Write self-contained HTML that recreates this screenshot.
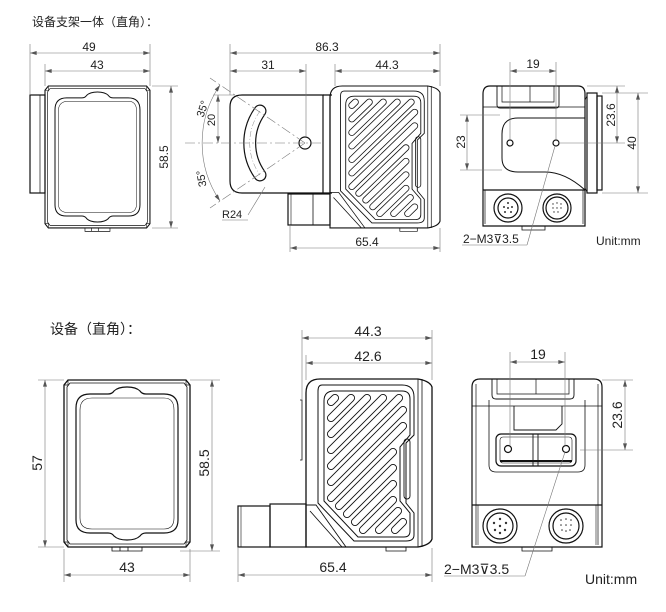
<!DOCTYPE html>
<html><head><meta charset="utf-8"><style>
html,body{margin:0;padding:0;background:#fff;}
svg{display:block}
text{font-family:"Liberation Sans","Noto Sans CJK SC",sans-serif;fill:#222}
</style></head><body>
<svg width="666" height="612" viewBox="0 0 666 612" xmlns="http://www.w3.org/2000/svg">
<defs>
<marker id="a" viewBox="0 0 10 6" refX="10" refY="3" markerWidth="7" markerHeight="4" orient="auto-start-reverse" markerUnits="userSpaceOnUse"><path d="M0,0L10,3L0,6z" fill="#555"/></marker>
<path id="slots" d="M29,19L25,23M45,19L25,39M61,19L25,55M77,19L25,71M93,19L25,87M97,31L25,103M97,47L25,119M87,73L33,127M87,89L41,135M87,105L49,143M87,121L57,151M92,132L73,151M97,143L89,151"/>
<g id="front" fill="none" stroke="#111">
 <path d="M4,0 L122,0 L126,5 L126,162 L122,167 L4,167 L0,162 L0,5 Z" stroke-width="1.3"/>
 <path d="M6,3 L120,3 L123,7 L123,160 L120,164 L6,164 L3,160 L3,7 Z" stroke-width="0.8"/>
 <path d="M0,5 L4,5 L4,0 M126,5 L122,5 L122,0 M0,162 L4,162 L4,167 M126,162 L122,162 L122,167" stroke-width="0.7"/>
 <path d="M26,14 L44,14 Q48,14 50,11 Q54,7 63,7 Q72,7 76,11 Q78,14 82,14 L100,14 Q114,14 114,28 L114,140 Q114,153 100,153 L82,153 Q78,153 76,156 Q72,160 63,160 Q54,160 50,156 Q48,153 44,153 L26,153 Q12,153 12,140 L12,28 Q12,14 26,14 Z" stroke-width="1.2"/>
 <path d="M28,18 L100,18 Q110,18 110,30 L110,138 Q110,149 100,149 L28,149 Q16,149 16,138 L16,30 Q16,18 28,18 Z" stroke-width="0.6"/>
 <path d="M48,167 L48,171 L78,171 L78,167 M56,167 L56,171 M64,167 L64,171" stroke-width="0.8"/>
</g>
<g id="side" fill="none" stroke="#111">
 <path d="M14,0 L112,0 Q124,2 126,8 L126,160 Q124,166 112,168 L0,168 L0,14 Q0,0 14,0 Z" stroke-width="1.3"/>
 <path d="M112,0 L112,168 M116,0 L116,168" stroke-width="0.8"/>
 <path d="M16,6 L96,6 Q108,6 108,18 L108,56 L100,64 L100,124 L108,134 L108,156 Q108,162 100,162 L48,162 L12,124 L12,12 Q12,6 16,6Z" stroke-width="1"/>
 <path d="M18,22 Q18,12 28,12 L96,12 Q104,12 104,20 L104,56 L94,68 L94,122 L104,134 L104,152 Q104,158 98,158 L52,158 L18,122 Z" stroke-width="1"/>
 <use href="#slots" stroke="#111" stroke-width="8" stroke-linecap="round"/>
 <use href="#slots" stroke="#fff" stroke-width="6.2" stroke-linecap="round"/>
 <rect x="98" y="60" width="6" height="60" rx="3" stroke-width="0.9"/>
 <path d="M0,126 L10,126 L40,168 M4,132 L36,168" stroke-width="0.9"/>
 <path d="M80,168 L80,172 L100,172 L100,168" stroke-width="0.8"/>
</g>
</defs>

<!-- ============ TOP SECTION ============ -->
<text x="32" y="26" font-size="12">设备支架一体（直角）：</text>

<g fill="none" stroke="#111" stroke-width="1.2"><rect x="30" y="95" width="15" height="98"/><line x1="40" y1="95" x2="40" y2="193" stroke-width="0.7"/></g>
<use href="#front" transform="translate(45,86) scale(0.833,0.85)"/>
<g stroke="#777" stroke-width="0.6" fill="none">
 <line x1="30" y1="44" x2="30" y2="95"/><line x1="150" y1="44" x2="150" y2="86"/><line x1="45" y1="64" x2="45" y2="86"/>
 <line x1="30" y1="53" x2="150" y2="53" marker-start="url(#a)" marker-end="url(#a)"/>
 <line x1="45" y1="71" x2="150" y2="71" marker-start="url(#a)" marker-end="url(#a)"/>
 <line x1="152" y1="86" x2="178" y2="86"/><line x1="152" y1="228" x2="178" y2="228"/>
 <line x1="171" y1="86" x2="171" y2="228" marker-start="url(#a)" marker-end="url(#a)"/>
</g>
<text x="89" y="51" font-size="12" text-anchor="middle">49</text>
<text x="97" y="69" font-size="12" text-anchor="middle">43</text>
<text transform="translate(168,157) rotate(-90)" font-size="12" text-anchor="middle">58.5</text>

<use href="#side" transform="translate(330,86) scale(0.873,0.845)"/>
<g fill="none" stroke="#111" stroke-width="1.2">
 <path d="M242,95 L323,95 L323,193 L242,193 Q230,193 230,181 L230,107 Q230,95 242,95 Z"/>
 <path d="M323,95 L332,95 M323,193 L332,193 M330,95 L330,193" />
 <circle cx="305" cy="143" r="6"/>
 <rect x="288" y="194" width="42" height="31"/><line x1="313" y1="194" x2="313" y2="225" stroke-width="0.8"/>
 <line x1="291" y1="194" x2="291" y2="225" stroke-width="0.6"/>
</g>
<path d="M260,111 A55,55 0 0 0 260,175" fill="none" stroke="#111" stroke-width="13" stroke-linecap="round"/>
<path d="M260,111 A55,55 0 0 0 260,175" fill="none" stroke="#fff" stroke-width="10.6" stroke-linecap="round"/>
<path d="M260,111 A55,55 0 0 0 260,175" fill="none" stroke="#888" stroke-width="0.5" stroke-dasharray="6,2,1,2"/>
<g stroke="#777" stroke-width="0.6" fill="none">
 <line x1="185" y1="143" x2="322" y2="143" stroke-dasharray="10,3,2,3"/>
 <line x1="305" y1="143" x2="210" y2="78" stroke-dasharray="10,3,2,3"/>
 <line x1="305" y1="143" x2="210" y2="208" stroke-dasharray="10,3,2,3"/>
 <path d="M220,85 A103,103 0 0 0 220,201" marker-start="url(#a)" marker-end="url(#a)"/>
 <line x1="213" y1="95" x2="235" y2="95"/>
 <line x1="218" y1="95" x2="218" y2="143" marker-start="url(#a)" marker-end="url(#a)"/>
 <line x1="248" y1="215" x2="265" y2="187"/><line x1="222" y1="220" x2="248" y2="220"/>
 <line x1="230" y1="44" x2="230" y2="95"/><line x1="440" y1="44" x2="440" y2="86"/><line x1="306" y1="64" x2="306" y2="137"/><line x1="335" y1="64" x2="335" y2="86"/>
 <line x1="230" y1="53" x2="440" y2="53" marker-start="url(#a)" marker-end="url(#a)"/>
 <line x1="230" y1="71" x2="306" y2="71" marker-start="url(#a)" marker-end="url(#a)"/>
 <line x1="335" y1="71" x2="440" y2="71" marker-start="url(#a)" marker-end="url(#a)"/>
 <line x1="290" y1="226" x2="290" y2="252"/><line x1="440" y1="228" x2="440" y2="252"/>
 <line x1="290" y1="248" x2="440" y2="248" marker-start="url(#a)" marker-end="url(#a)"/>
</g>
<text x="327" y="51" font-size="12" text-anchor="middle">86.3</text>
<text x="268" y="69" font-size="12" text-anchor="middle">31</text>
<text x="387" y="69" font-size="12" text-anchor="middle">44.3</text>
<text x="367" y="246" font-size="12" text-anchor="middle">65.4</text>
<text transform="translate(206,110) rotate(-72)" font-size="11" text-anchor="middle">35°</text>
<text transform="translate(215,120) rotate(-90)" font-size="11" text-anchor="middle">20</text>
<text transform="translate(205,178) rotate(-100)" font-size="11" text-anchor="middle">35°</text>
<text x="222" y="218" font-size="11">R24</text>

<g fill="none" stroke="#111" stroke-width="1.2">
 <path d="M490,86 L578,86 Q585,86 585,94 L585,226 L483,226 L483,94 Q483,86 490,86 Z"/>
 <rect x="587" y="93" width="10" height="100"/><rect x="597" y="96" width="5" height="94"/>
 <path d="M585,100 L587,96 M585,188 L587,192" stroke-width="0.8"/>
 <path d="M497,86 L497,105 Q497,108 500,108 L556,108 Q559,108 559,105 L559,86" stroke-width="0.9"/>
 <path d="M502,86 L502,102 L554,102 L554,86 M530,86 L530,102" stroke-width="0.7"/>
 <path d="M483,107 L585,107" stroke-width="0.7"/>
 <path d="M585,118 L518,118 Q502,118 502,134 L502,158 Q502,172 518,172 L545,172 Q565,172 585,190" stroke-width="1"/>
 <line x1="483" y1="190" x2="585" y2="190"/>
 <path d="M485,190 L485,224 M583,190 L583,224" stroke-width="0.7"/>
 <circle cx="510" cy="143" r="3"/><circle cx="556" cy="143" r="3"/>
 <circle cx="508" cy="208" r="14"/><circle cx="508" cy="208" r="10"/>
 <circle cx="557" cy="208" r="14"/><circle cx="557" cy="208" r="11"/>
 <path d="M522,226 L522,230 L545,230 L545,226" stroke-width="0.8"/>
</g>
<g fill="#333"><circle cx="508" cy="203" r="1"/><circle cx="504" cy="207" r="1"/><circle cx="512" cy="207" r="1"/><circle cx="505" cy="212" r="1"/><circle cx="511" cy="212" r="1"/><circle cx="508" cy="208" r="1"/>
<circle cx="553" cy="204" r=".7"/><circle cx="557" cy="203" r=".7"/><circle cx="561" cy="204" r=".7"/><circle cx="553" cy="208" r=".7"/><circle cx="557" cy="208" r=".7"/><circle cx="561" cy="208" r=".7"/><circle cx="554" cy="212" r=".7"/><circle cx="558" cy="212" r=".7"/></g>
<g stroke="#777" stroke-width="0.6" fill="none">
 <line x1="510" y1="62" x2="510" y2="140"/><line x1="556" y1="62" x2="556" y2="140"/>
 <line x1="510" y1="71" x2="556" y2="71" marker-start="url(#a)" marker-end="url(#a)"/>
 <line x1="460" y1="115" x2="500" y2="115"/><line x1="460" y1="170" x2="502" y2="170"/>
 <line x1="467" y1="115" x2="467" y2="170" marker-start="url(#a)" marker-end="url(#a)"/>
 <line x1="587" y1="86" x2="625" y2="86"/><line x1="560" y1="143" x2="625" y2="143"/>
 <line x1="617" y1="86" x2="617" y2="143" marker-start="url(#a)" marker-end="url(#a)"/>
 <line x1="602" y1="93" x2="648" y2="93"/><line x1="602" y1="193" x2="648" y2="193"/>
 <line x1="638" y1="93" x2="638" y2="193" marker-start="url(#a)" marker-end="url(#a)"/>
 <line x1="555" y1="146" x2="527" y2="245"/><line x1="462" y1="245" x2="527" y2="245"/>
</g>
<text x="533" y="68" font-size="12" text-anchor="middle">19</text>
<text transform="translate(465,142) rotate(-90)" font-size="12" text-anchor="middle">23</text>
<text transform="translate(615,115) rotate(-90)" font-size="12" text-anchor="middle">23.6</text>
<text transform="translate(636,143) rotate(-90)" font-size="12" text-anchor="middle">40</text>
<text x="463" y="243" font-size="12">2−M3⊽3.5</text>
<text x="596" y="245" font-size="12">Unit:mm</text>

<!-- ============ BOTTOM SECTION ============ -->
<text x="50" y="334" font-size="14">设备（直角）：</text>

<use href="#front" transform="translate(64,380)"/>
<g stroke="#777" stroke-width="0.6" fill="none">
 <line x1="38" y1="380" x2="64" y2="380"/><line x1="38" y1="547" x2="64" y2="547"/>
 <line x1="45" y1="380" x2="45" y2="547" marker-start="url(#a)" marker-end="url(#a)"/>
 <line x1="190" y1="380" x2="220" y2="380"/><line x1="180" y1="551" x2="220" y2="551"/>
 <line x1="212" y1="380" x2="212" y2="551" marker-start="url(#a)" marker-end="url(#a)"/>
 <line x1="64" y1="549" x2="64" y2="582"/><line x1="190" y1="549" x2="190" y2="582"/>
 <line x1="64" y1="575" x2="190" y2="575" marker-start="url(#a)" marker-end="url(#a)"/>
</g>
<text transform="translate(42,463) rotate(-90)" font-size="14" text-anchor="middle">57</text>
<text transform="translate(209,463) rotate(-90)" font-size="14" text-anchor="middle">58.5</text>
<text x="127" y="572" font-size="14" text-anchor="middle">43</text>

<use href="#side" transform="translate(306,379)"/>
<g fill="none" stroke="#111" stroke-width="1.2">
 <rect x="238" y="506" width="32" height="41"/><rect x="270" y="504" width="36" height="43"/>
 <line x1="241" y1="506" x2="241" y2="547" stroke-width="0.6"/>
 <path d="M300,400 L302,400 L302,460 L300,460" stroke-width="0.8"/>
</g>
<g stroke="#777" stroke-width="0.6" fill="none">
 <line x1="302" y1="330" x2="302" y2="400"/><line x1="432" y1="330" x2="432" y2="380"/><line x1="306" y1="355" x2="306" y2="380"/>
 <line x1="302" y1="338" x2="432" y2="338" marker-start="url(#a)" marker-end="url(#a)"/>
 <line x1="306" y1="363" x2="432" y2="363" marker-start="url(#a)" marker-end="url(#a)"/>
 <line x1="238" y1="548" x2="238" y2="582"/><line x1="432" y1="548" x2="432" y2="582"/>
 <line x1="238" y1="575" x2="432" y2="575" marker-start="url(#a)" marker-end="url(#a)"/>
</g>
<text x="368" y="336" font-size="14" text-anchor="middle">44.3</text>
<text x="368" y="361" font-size="14" text-anchor="middle">42.6</text>
<text x="333" y="572" font-size="14" text-anchor="middle">65.4</text>

<g fill="none" stroke="#111" stroke-width="1.2">
 <path d="M480,379 L594,379 Q602,379 602,387 L602,547 L472,547 L472,387 Q472,379 480,379 Z"/>
 <path d="M476,384 L476,545 M598,384 L598,545" stroke-width="0.7"/>
 <path d="M492,379 L492,395 Q492,399 496,399 L570,399 Q574,399 574,395 L574,379" stroke-width="0.9"/>
 <path d="M497,379 L497,394 L569,394 L569,379 M536,379 L536,394" stroke-width="0.7"/>
 <line x1="472" y1="406" x2="602" y2="406" stroke-width="0.7"/>
 <path d="M514,406 L514,430 L556,430 L562,424 L562,406" stroke-width="0.9"/>
 <path d="M489,400 L489,465 Q489,472 496,472 L578,472 Q585,472 585,465 L585,400" stroke-width="0.8"/>
 <rect x="496" y="434" width="80" height="32" rx="5"/>
 <rect x="500" y="437" width="72" height="26" rx="3" stroke-width="0.6"/>
 <path d="M533,434 L533,466 M538,434 L538,466" stroke-width="0.9"/>
 <line x1="500" y1="461" x2="572" y2="461" stroke-width="2"/>
 <circle cx="508" cy="449" r="3.5"/><circle cx="566" cy="449" r="3.5"/>
 <line x1="472" y1="505" x2="602" y2="505"/>
 <path d="M478,505 L478,545 M596,505 L596,545" stroke-width="0.6"/>
 <circle cx="500" cy="526" r="17"/><circle cx="500" cy="526" r="13"/>
 <circle cx="566" cy="526" r="17"/><circle cx="566" cy="526" r="13"/>
 <path d="M522,547 L522,551 L552,551 L552,547" stroke-width="0.8"/>
</g>
<g fill="#333"><circle cx="500" cy="519" r="1.2"/><circle cx="494" cy="523" r="1.2"/><circle cx="506" cy="523" r="1.2"/><circle cx="495" cy="530" r="1.2"/><circle cx="505" cy="530" r="1.2"/><circle cx="500" cy="526" r="1.2"/><circle cx="500" cy="533" r="1.2"/>
<circle cx="561" cy="520" r=".8"/><circle cx="566" cy="519" r=".8"/><circle cx="571" cy="520" r=".8"/><circle cx="561" cy="525" r=".8"/><circle cx="566" cy="525" r=".8"/><circle cx="571" cy="525" r=".8"/><circle cx="562" cy="530" r=".8"/><circle cx="566" cy="531" r=".8"/><circle cx="570" cy="530" r=".8"/></g>
<g stroke="#777" stroke-width="0.6" fill="none">
 <line x1="510" y1="352" x2="510" y2="446"/><line x1="565" y1="352" x2="565" y2="446"/>
 <line x1="510" y1="362" x2="565" y2="362" marker-start="url(#a)" marker-end="url(#a)"/>
 <line x1="602" y1="380" x2="633" y2="380"/><line x1="580" y1="450" x2="633" y2="450"/>
 <line x1="625" y1="380" x2="625" y2="450" marker-start="url(#a)" marker-end="url(#a)"/>
 <line x1="565" y1="452" x2="525" y2="576"/><line x1="444" y1="576" x2="525" y2="576"/>
</g>
<text x="538" y="359" font-size="14" text-anchor="middle">19</text>
<text transform="translate(622,415) rotate(-90)" font-size="14" text-anchor="middle">23.6</text>
<text x="444" y="574" font-size="14">2−M3⊽3.5</text>
<text x="585" y="584" font-size="14">Unit:mm</text>
</svg>
</body></html>
